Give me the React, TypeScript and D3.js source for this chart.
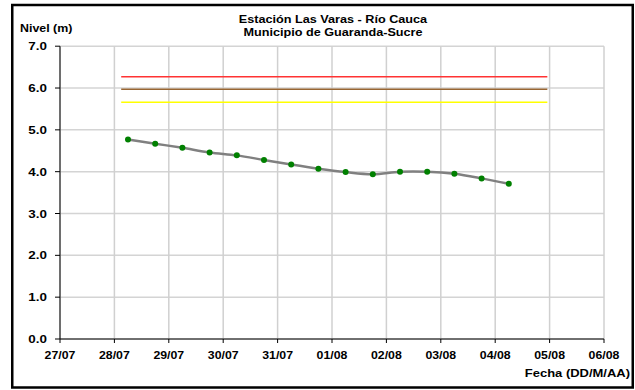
import React from "react";
import * as d3 from "d3";

const titleLines = ["Estación Las Varas - Río Cauca", "Municipio de Guaranda-Sucre"];
const yAxisTitle = "Nivel (m)";
const xAxisTitle = "Fecha (DD/M/AA)";

const dates = [
  "2010-07-28T06:00", "2010-07-28T18:00", "2010-07-29T06:00", "2010-07-29T18:00",
  "2010-07-30T06:00", "2010-07-30T18:00", "2010-07-31T06:00", "2010-07-31T18:00",
  "2010-08-01T06:00", "2010-08-01T18:00", "2010-08-02T06:00", "2010-08-02T18:00",
  "2010-08-03T06:00", "2010-08-03T18:00", "2010-08-04T06:00",
];
const levels = [4.77, 4.67, 4.57, 4.46, 4.39, 4.28, 4.17, 4.07, 3.99, 3.94, 4.0, 4.0, 3.95, 3.84, 3.71];

const thresholdStart = "2010-07-28T03:00";
const thresholdEnd = "2010-08-04T23:00";
const thresholdValues = [6.27, 5.97, 5.66];
const thresholdColors = ["#ff3333", "#996633", "#ffff00"];

const xDomain = ["2010-07-27T00:00", "2010-08-06T00:00"];
const yTicks = [0, 1, 2, 3, 4, 5, 6, 7];

const W = 635;
const H = 390;
const m = { left: 60, right: 604, top: 46.2, bottom: 339 };

function Txt(props: { x: number; y: number; anchor?: string; size?: number; sx?: number; children: React.ReactNode }) {
  const { x, y, anchor = "start", size = 11, sx = 1.17, children } = props;
  return (
    <text
      transform={`translate(${x},${y}) scale(${sx},1)`}
      textAnchor={anchor as any}
      fontSize={size}
    >
      {children}
    </text>
  );
}

export default function App() {
  const parse = (s: string) => new Date(s);
  const x = d3.scaleTime().domain(xDomain.map(parse)).range([m.left, m.right]);
  const y = d3.scaleLinear().domain([0, 7]).range([m.bottom, m.top]);
  const xTicks = d3.timeDay.range(parse(xDomain[0]), d3.timeDay.offset(parse(xDomain[1]), 1));
  const fmt = d3.timeFormat("%d/%m");
  const pts = dates.map((d, i) => ({ d: parse(d), v: levels[i] }));
  const line = d3
    .line<{ d: Date; v: number }>()
    .x((p) => x(p.d))
    .y((p) => y(p.v))
    .curve(d3.curveCatmullRom.alpha(0.5));
  const font = "'Liberation Sans', Arial, sans-serif";

  return (
    <svg
      width={W}
      height={H}
      style={{ position: "absolute", left: 0, top: 0, background: "#fff" }}
      fontFamily={font}
      fontWeight="bold"
    >
      <rect x={0} y={0} width={W} height={H} fill="#fff" />
      {/* grid */}
      {yTicks.map((t) => (
        <line key={"gy" + t} x1={m.left} x2={m.right} y1={y(t)} y2={y(t)} stroke="#d4d4d4" strokeWidth={1.5} />
      ))}
      {xTicks.map((t, i) => (
        <line key={"gx" + i} x1={x(t)} x2={x(t)} y1={m.top} y2={m.bottom} stroke="#d0d0d0" strokeWidth={1.5} />
      ))}
      {/* thresholds */}
      {thresholdValues.map((v, i) => (
        <line
          key={"th" + i}
          x1={x(parse(thresholdStart))}
          x2={x(parse(thresholdEnd))}
          y1={y(v)}
          y2={y(v)}
          stroke={thresholdColors[i]}
          strokeWidth={1.5}
        />
      ))}
      {/* axes */}
      <line x1={m.left} x2={m.left} y1={m.top} y2={m.bottom} stroke="#000" strokeWidth={1} />
      <line x1={m.left} x2={m.right} y1={m.bottom} y2={m.bottom} stroke="#000" strokeWidth={1} />
      {yTicks.map((t) => (
        <g key={"ty" + t}>
          <line x1={m.left - 5} x2={m.left} y1={y(t)} y2={y(t)} stroke="#000" />
          <Txt x={47} y={y(t) + 4} anchor="end" sx={1.22}>
            {t.toFixed(1)}
          </Txt>
        </g>
      ))}
      {xTicks.map((t, i) => (
        <g key={"tx" + i}>
          <line x1={x(t)} x2={x(t)} y1={m.bottom} y2={m.bottom + 4} stroke="#000" />
          <Txt x={x(t)} y={359} anchor="middle" sx={1.12}>
            {fmt(t)}
          </Txt>
        </g>
      ))}
      {/* series */}
      <path d={line(pts) || ""} fill="none" stroke="#808080" strokeWidth={2.5} />
      {pts.map((p, i) => (
        <circle key={"p" + i} cx={x(p.d)} cy={y(p.v)} r={3} fill="#008000" />
      ))}
      {/* titles */}
      <Txt x={333} y={23} anchor="middle" sx={1.15}>
        {titleLines[0]}
      </Txt>
      <Txt x={333} y={35.5} anchor="middle" sx={1.15}>
        {titleLines[1]}
      </Txt>
      <Txt x={20} y={32} sx={1.13}>
        {yAxisTitle}
      </Txt>
      <Txt x={630} y={377} anchor="end" sx={1.18}>
        {xAxisTitle}
      </Txt>
      {/* outer border */}
      <rect x={12.25} y={5} width={620.5} height={382.5} fill="none" stroke="#000" strokeWidth={2.5} />
    </svg>
  );
}
